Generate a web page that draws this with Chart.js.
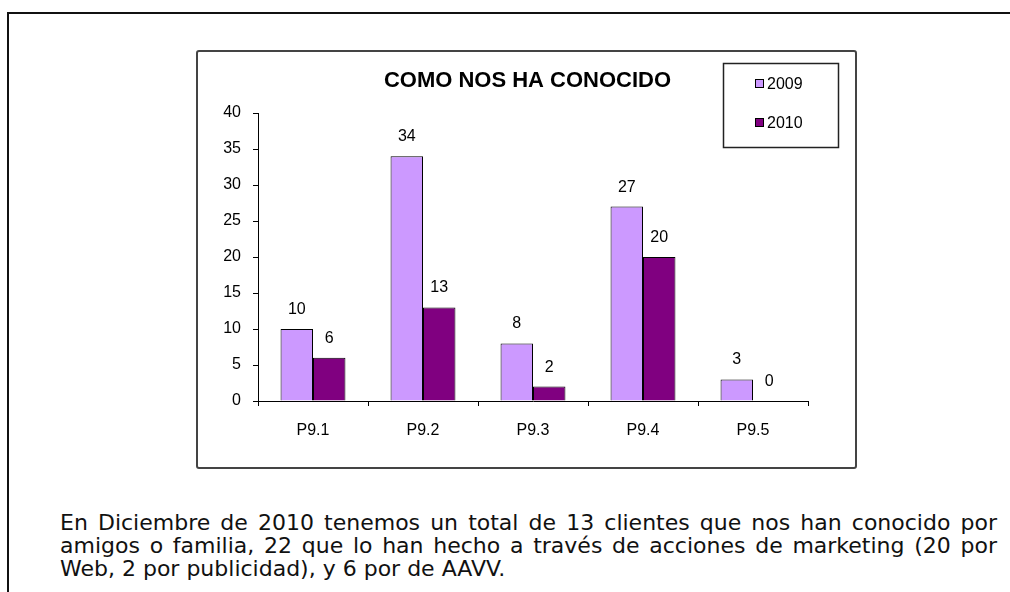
<!DOCTYPE html>
<html lang="es">
<head>
    <meta charset="UTF-8">
    <title>Como nos ha conocido</title>
    <script src="https://cdn.jsdelivr.net/npm/chart.js"></script>
    <style>
        body { margin: 0; width: 1010px; height: 592px; overflow: hidden; position: relative; background: #fff; }
        .frame { position: absolute; left: 7px; top: 12px; width: 1100px; height: 700px; border: 2px solid #111; }
        .chart-box { position: absolute; left: 196px; top: 50px; width: 657px; height: 415px; border: 2px solid #444; border-radius: 3px; }
        .chart-box canvas { display: block; }
        .caption { position: absolute; left: 60px; top: 511px; width: 937px; margin: 0;
                   font-family: "DejaVu Sans", Verdana, sans-serif; font-size: 22px; line-height: 23px;
                   text-align: justify; color: #111; }
    </style>
</head>
<body>
    <div class="frame"></div>
    <div class="chart-box">
        <canvas id="chart" width="657" height="415"></canvas>
    </div>
    <p class="caption">En Diciembre de 2010 tenemos un total de 13 clientes que nos han conocido por amigos o familia, 22 que lo han hecho a través de acciones de marketing (20 por Web, 2 por publicidad), y 6 por de AAVV.</p>

    <script>
        // data
        const categories = ['P9.1', 'P9.2', 'P9.3', 'P9.4', 'P9.5'];
        const seriesNames = ['2009', '2010'];
        const values2009 = [10, 34, 8, 27, 3];
        const values2010 = [6, 13, 2, 20, 0];
        const chartTitle = 'COMO NOS HA CONOCIDO';

        const FONT = '"Liberation Sans", Arial, sans-serif';

        // title centred on the whole box (the built-in one gets pushed by the right padding)
        const boxTitle = {
            id: 'boxTitle',
            afterDraw(chart) {
                const ctx = chart.ctx;
                ctx.save();
                ctx.font = 'bold 22px ' + FONT;
                ctx.fillStyle = '#000';
                ctx.textAlign = 'center';
                ctx.textBaseline = 'middle';
                ctx.fillText(chartTitle, chart.width / 2 + 1, 29);
                ctx.restore();
            }
        };

        // numbers above each bar
        const barLabels = {
            id: 'barLabels',
            afterDatasetsDraw(chart) {
                const ctx = chart.ctx;
                ctx.save();
                ctx.font = '16px ' + FONT;
                ctx.fillStyle = '#000';
                ctx.textAlign = 'center';
                ctx.textBaseline = 'alphabetic';
                chart.data.datasets.forEach((ds, i) => {
                    chart.getDatasetMeta(i).data.forEach((bar, j) => {
                        ctx.fillText(String(ds.data[j]), bar.x, bar.y - 15);
                    });
                });
                ctx.restore();
            }
        };

        // boxed legend sitting over the top right corner
        const boxLegend = {
            id: 'boxLegend',
            afterDraw(chart) {
                const ctx = chart.ctx;
                ctx.save();
                ctx.lineWidth = 1.5;
                ctx.strokeStyle = '#222';
                ctx.strokeRect(525.5, 11.5, 115, 84);
                ctx.font = '16px ' + FONT;
                ctx.textBaseline = 'middle';
                ctx.textAlign = 'left';
                const rows = [31.5, 70.5];
                chart.data.datasets.forEach((ds, i) => {
                    const y = rows[i];
                    ctx.fillStyle = ds.backgroundColor;
                    ctx.fillRect(557, y - 4.5, 9, 9);
                    ctx.lineWidth = 1;
                    ctx.strokeStyle = '#000';
                    ctx.strokeRect(557.5, y - 4, 8, 8);
                    ctx.fillStyle = '#000';
                    ctx.fillText(ds.label, 569, y + 1);
                });
                ctx.restore();
            }
        };

        new Chart(document.getElementById('chart'), {
            type: 'bar',
            data: {
                labels: categories,
                datasets: [
                    { label: seriesNames[0], data: values2009, backgroundColor: '#CC99FF', borderColor: '#000', borderWidth: 1 },
                    { label: seriesNames[1], data: values2010, backgroundColor: '#800080', borderColor: '#000', borderWidth: 1 }
                ]
            },
            options: {
                responsive: false,
                animation: false,
                devicePixelRatio: 1,
                layout: { padding: { left: 0, right: 47, top: 61, bottom: 0 } },
                datasets: { bar: { categoryPercentage: 0.59, barPercentage: 1 } },
                plugins: {
                    legend: { display: false },
                    tooltip: { enabled: false },
                    title: { display: false }
                },
                scales: {
                    x: {
                        grid: { drawOnChartArea: false, drawTicks: true, tickLength: 5, color: '#000', offset: true },
                        border: { display: true, color: '#000', width: 1 },
                        ticks: { color: '#000', font: { family: FONT, size: 16 }, padding: 15 },
                        afterFit(scale) { scale.height = 66; }
                    },
                    y: {
                        min: 0,
                        max: 40,
                        ticks: { stepSize: 5, color: '#000', font: { family: FONT, size: 16 }, padding: 12 },
                        grid: { drawOnChartArea: false, drawTicks: true, tickLength: 5, color: '#000' },
                        border: { display: true, color: '#000', width: 1 },
                        afterFit(scale) { scale.width = 60; }
                    }
                }
            },
            plugins: [boxTitle, barLabels, boxLegend]
        });
    </script>
</body>
</html>
